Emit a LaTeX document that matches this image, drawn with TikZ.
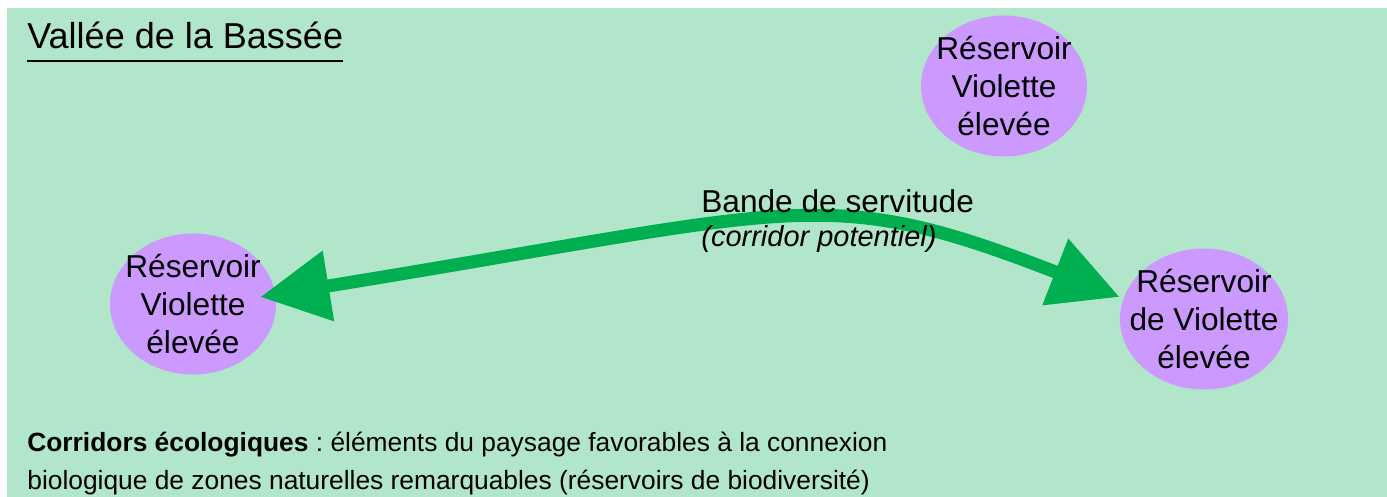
\documentclass[tikz,border=0pt]{standalone}
\usepackage{fontspec}
\setmainfont{Liberation Sans}
\frenchspacing
\usetikzlibrary{shapes.geometric,arrows.meta,positioning}
\definecolor{menthe}{HTML}{B1E6CA}
\definecolor{lilas}{HTML}{CC99FF}
\definecolor{vert}{HTML}{00B050}

\begin{document}
\begin{tikzpicture}[
	reservoir/.style={ellipse, fill=lilas, inner xsep=-0.3cm, inner ysep=0pt,
		minimum width=3.32cm, minimum height=2.82cm,
		align=center, font=\fontsize{18}{21.4}\selectfont},
	corridor/.style={line width=0.26cm, draw=vert,
		{Triangle[length=1.38cm,width=1.36cm]}-{Triangle[length=1.38cm,width=1.36cm]}},
	texte/.style={anchor=base west, inner sep=0pt}
	]
	\useasboundingbox (0,0) rectangle (27.74,9.94);
	
	%------------------------------
	% Fond
	%------------------------------
	\fill[menthe] (0.14,0) rectangle (27.74,9.78);
	
	% Titre souligne
	\node[texte, font=\fontsize{20.5}{24}\selectfont] (titre) at (0.54,8.96) {Vallée de la Bassée};
	\draw[line width=0.04cm] ([yshift=-7pt]titre.base west) -- ([yshift=-7pt]titre.base east);
	
	%------------------------------
	% Reservoirs
	%------------------------------
	\node[reservoir] (resHaut) at (20.08,8.22) {Réservoir\\Violette\\élevée};
	\node[reservoir] (resGauche) at (3.86,3.86) {Réservoir\\Violette\\élevée};
	\node[reservoir] (resDroite) at (24.08,3.56) {Réservoir\\de Violette\\élevée};
	
	%------------------------------
	% Corridor potentiel
	%------------------------------
	\coordinate (pointeG) at ([xshift=-0.32cm,yshift=0.14cm]resGauche.east);
	\coordinate (pointeD) at ([yshift=0.44cm]resDroite.west);
	\draw[corridor] (pointeG) .. controls (16.06,5.76) and (16.44,6.32) .. (pointeD);
	
	\node[texte, font=\fontsize{18}{21.4}\selectfont] (bande) at (14.02,5.68) {Bande de servitude};
	\node[texte, font=\fontsize{16.5}{20}\selectfont\itshape] (potentiel)
	at ([yshift=-0.68cm]bande.base west) {(corridor potentiel)};
	
	%------------------------------
	% Legende
	%------------------------------
	\node[texte, font=\fontsize{15}{18}\selectfont] (legende1) at (0.54,0.9)
	{\textbf{Corridors écologiques} : éléments du paysage favorables à la connexion};
	\node[texte, font=\fontsize{15}{18}\selectfont] (legende2) at ([yshift=-0.76cm]legende1.base west)
	{biologique de zones naturelles remarquables (réservoirs de biodiversité)};
	
\end{tikzpicture}
\end{document}
